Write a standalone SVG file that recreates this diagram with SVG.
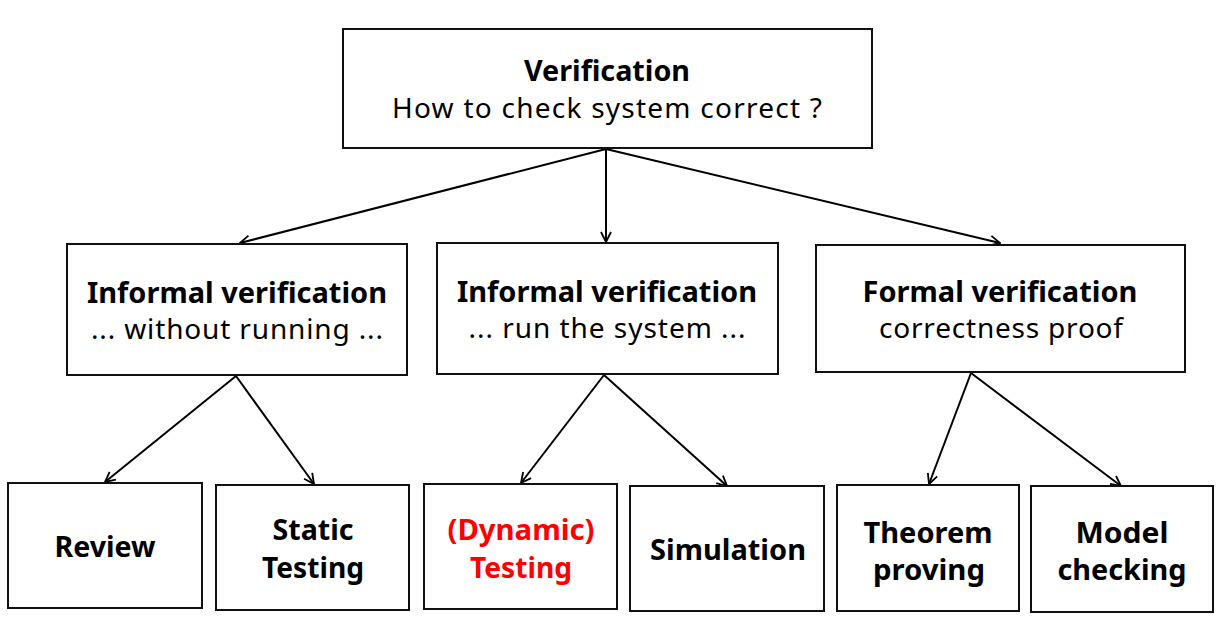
<svg xmlns="http://www.w3.org/2000/svg" width="1222" height="627" viewBox="0 0 1222 627">
<style>
.box{fill:#fff;stroke:#111;stroke-width:2}
.t{font-family:"Noto Sans","Open Sans",sans-serif;font-size:28px;fill:#000;text-anchor:middle}
.b{font-weight:bold}
.r{fill:#ff0000}
.c{stroke:#000;stroke-width:2;fill:none;marker-end:url(#ah)}
</style>
<defs>
<marker id="ah" viewBox="0 0 12 12" refX="11" refY="6" markerWidth="12" markerHeight="12" markerUnits="userSpaceOnUse" orient="auto">
<path d="M1,1 L11,6 L1,11" fill="none" stroke="#000" stroke-width="1.8"/>
</marker>
</defs>
<rect width="1222" height="627" fill="#fff"/>
<g id="connectors">
<line class="c" x1="606" y1="149" x2="240" y2="243"/>
<line class="c" x1="606" y1="149" x2="606" y2="242"/>
<line class="c" x1="606" y1="149" x2="1000" y2="243"/>
<line class="c" x1="236" y1="376" x2="105" y2="482"/>
<line class="c" x1="236" y1="376" x2="314" y2="484"/>
<line class="c" x1="604" y1="375" x2="521" y2="483"/>
<line class="c" x1="604" y1="375" x2="727" y2="486"/>
<line class="c" x1="971" y1="373" x2="929" y2="484"/>
<line class="c" x1="971" y1="373" x2="1121" y2="486"/>
</g>
<g id="verification">
<rect class="box" x="343" y="29" width="529" height="119"/>
<text class="t b" x="607" y="81" textLength="166" lengthAdjust="spacingAndGlyphs">Verification</text>
<text class="t" x="607" y="118" textLength="430" lengthAdjust="spacing">How to check system correct ?</text>
</g>
<g id="informal1">
<rect class="box" x="67" y="244" width="340" height="131"/>
<text class="t b" x="237" y="303" textLength="300" lengthAdjust="spacingAndGlyphs">Informal verification</text>
<text class="t" x="237" y="339" textLength="292" lengthAdjust="spacing">... without running ...</text>
</g>
<g id="informal2">
<rect class="box" x="437" y="243" width="341" height="131"/>
<text class="t b" x="607" y="302" textLength="300" lengthAdjust="spacingAndGlyphs">Informal verification</text>
<text class="t" x="607" y="338" textLength="277" lengthAdjust="spacing">... run the system ...</text>
</g>
<g id="formal">
<rect class="box" x="816" y="245" width="369" height="127"/>
<text class="t b" x="1000" y="302" textLength="275" lengthAdjust="spacingAndGlyphs">Formal verification</text>
<text class="t" x="1001" y="338" textLength="244" lengthAdjust="spacing">correctness proof</text>
</g>
<g id="review">
<rect class="box" x="8" y="483" width="194" height="125"/>
<text class="t b" x="105" y="557" textLength="101" lengthAdjust="spacingAndGlyphs">Review</text>
</g>
<g id="static">
<rect class="box" x="216" y="485" width="193" height="125"/>
<text class="t b" x="313" y="540" textLength="81" lengthAdjust="spacingAndGlyphs">Static</text>
<text class="t b" x="313" y="578" textLength="102" lengthAdjust="spacingAndGlyphs">Testing</text>
</g>
<g id="dynamic">
<rect class="box" x="424" y="484" width="193" height="125"/>
<text class="t b r" x="521" y="540" textLength="147" lengthAdjust="spacingAndGlyphs">(Dynamic)</text>
<text class="t b r" x="521" y="578" textLength="102" lengthAdjust="spacingAndGlyphs">Testing</text>
</g>
<g id="simulation">
<rect class="box" x="630" y="486" width="194" height="125"/>
<text class="t b" x="728" y="560" textLength="156" lengthAdjust="spacingAndGlyphs">Simulation</text>
</g>
<g id="theorem">
<rect class="box" x="837" y="485" width="182" height="126"/>
<text class="t b" x="928" y="543" textLength="129" lengthAdjust="spacingAndGlyphs">Theorem</text>
<text class="t b" x="929" y="580" textLength="112" lengthAdjust="spacingAndGlyphs">proving</text>
</g>
<g id="model">
<rect class="box" x="1031" y="486" width="182" height="126"/>
<text class="t b" x="1122" y="543" textLength="93" lengthAdjust="spacingAndGlyphs">Model</text>
<text class="t b" x="1122" y="580" textLength="129" lengthAdjust="spacingAndGlyphs">checking</text>
</g>
</svg>
